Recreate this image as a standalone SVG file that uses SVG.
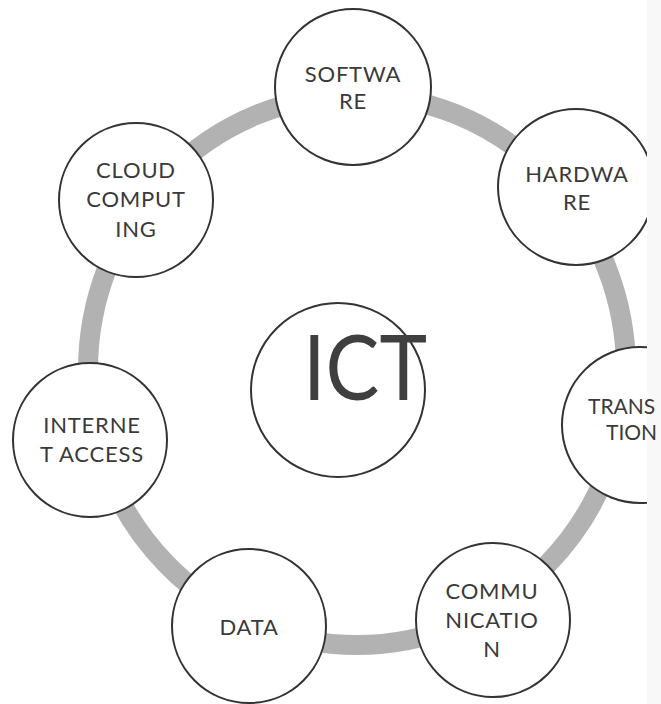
<svg xmlns="http://www.w3.org/2000/svg" width="661" height="704" viewBox="0 0 661 704">
<style>
.node{fill:#ffffff;stroke:#333333;stroke-width:2}
.lbl{font-family:Lato,"Open Sans","Liberation Sans",sans-serif;font-size:22px;letter-spacing:0.8px;fill:#3a3a3a;text-anchor:middle}
.ring{fill:none;stroke:#b2b2b2;stroke-width:20}
</style>
<defs>
<clipPath id="page"><rect x="0" y="0" width="647" height="704"/></clipPath>
</defs>
<rect width="661" height="704" fill="#ffffff"/>
<rect x="647" y="0" width="14" height="704" fill="#f8f8f8"/>
<g id="connectors" clip-path="url(#page)">
<ellipse class="ring" cx="357" cy="370" rx="269" ry="275"/>
</g>
<g id="ict">
<circle class="node" cx="338" cy="390" r="87"/>
<text x="365" y="400" font-family="Lato,'Open Sans','Liberation Sans',sans-serif" font-size="92" fill="#3f3f3f" text-anchor="middle" textLength="124" lengthAdjust="spacingAndGlyphs">ICT</text>
</g>
<g id="software">
<circle class="node" cx="353" cy="87" r="78"/>
<text class="lbl" x="353" y="82">SOFTWA</text>
<text class="lbl" x="353" y="109">RE</text>
</g>
<g id="hardware">
<circle class="node" cx="576" cy="187" r="78" clip-path="url(#page)"/>
<text class="lbl" x="577" y="182">HARDWA</text>
<text class="lbl" x="577" y="210">RE</text>
</g>
<g id="transition">
<circle class="node" cx="640" cy="425" r="78" clip-path="url(#page)"/>
<text class="lbl" x="588" y="414" style="text-anchor:start;font-size:21px;letter-spacing:0">TRANS</text>
<text class="lbl" x="606" y="440" style="text-anchor:start;font-size:21px;letter-spacing:0">TION</text>
</g>
<g id="communication">
<circle class="node" cx="493" cy="620" r="77"/>
<text class="lbl" x="492" y="599">COMMU</text>
<text class="lbl" x="492" y="628">NICATIO</text>
<text class="lbl" x="492" y="657">N</text>
</g>
<g id="data">
<circle class="node" cx="249" cy="626" r="77"/>
<text class="lbl" x="249" y="635">DATA</text>
</g>
<g id="internet">
<circle class="node" cx="90" cy="440" r="77"/>
<text class="lbl" x="92" y="433">INTERNE</text>
<text class="lbl" x="92" y="462">T ACCESS</text>
</g>
<g id="cloud">
<circle class="node" cx="136" cy="200" r="77"/>
<text class="lbl" x="136" y="178">CLOUD</text>
<text class="lbl" x="136" y="207">COMPUT</text>
<text class="lbl" x="136" y="237">ING</text>
</g>
</svg>
